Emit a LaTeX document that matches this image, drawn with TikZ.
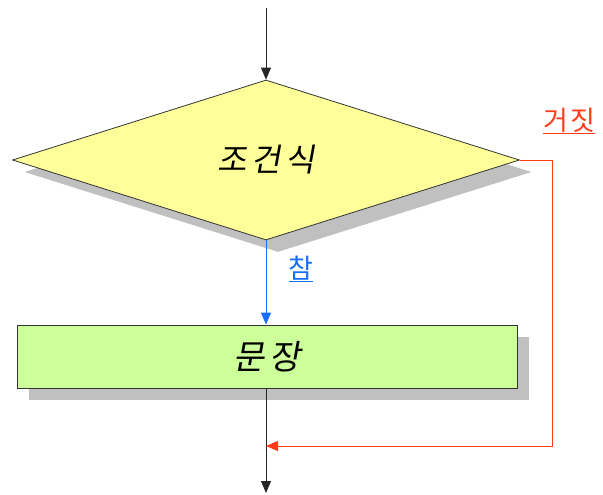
\documentclass[tikz,border=0pt]{standalone}
\usepackage{fontspec}
\newfontfamily\krslant[FakeSlant=0.18,LetterSpace=14]{Noto Sans CJK KR}
\newfontfamily\kr[LetterSpace=8]{Noto Sans CJK KR}
\usetikzlibrary{shapes.geometric,shadows,arrows.meta}
\definecolor{condfill}{HTML}{FFFF99}
\definecolor{stmtfill}{HTML}{CCFF99}
\definecolor{shadowgray}{HTML}{C0C0C0}
\definecolor{truecol}{HTML}{1A6EFF}
\definecolor{falsecol}{HTML}{FF3B1A}
\tikzset{
  shadowed/.style={drop shadow={shadow xshift=12pt,shadow yshift=-12pt,fill=shadowgray,opacity=1}},
  condbox/.style={shape=diamond,draw=black!80,fill=condfill,line width=0.8pt,inner sep=0pt,
    minimum width=507pt,minimum height=160pt,aspect=3.17,shadowed,font=\krslant\fontsize{32}{36}\selectfont},
  stmtbox/.style={rectangle,draw=black!80,fill=stmtfill,line width=0.8pt,inner sep=0pt,
    minimum width=500pt,minimum height=63pt,shadowed,font=\krslant\fontsize{34}{38}\selectfont},
  arr/.style={-{Triangle[width=10pt,length=12pt]},line width=0.9pt},
  lbl/.style={font=\kr\fontsize{27}{30}\selectfont,inner sep=0pt}
}
\begin{document}
\begin{tikzpicture}[x=1pt,y=-1pt]
\useasboundingbox (0,0) rectangle (603,495);
\node[condbox] (cond) at (266,160) {조건식};
\node[stmtbox] (stmt) at (267,356.5) {문장};
\coordinate (start) at (266,8);
\coordinate (finish) at (266,493);
\coordinate (join) at (266,446);
\coordinate (corner) at (552,160);
\draw[arr,black!85] (start) -- (cond.north);
\draw[arr,truecol] (cond.south) -- (stmt.north -| cond.south);
\draw[arr,black!85] (stmt.south -| cond.south) -- (finish);
\draw[arr,falsecol] (cond.east) -- (corner) |- (join);
\node[lbl,text=truecol] (t) at (301,269) {\underline{참}};
\node[lbl,text=falsecol] (f) at (569,121) {\underline{거짓}};
\end{tikzpicture}
\end{document}
